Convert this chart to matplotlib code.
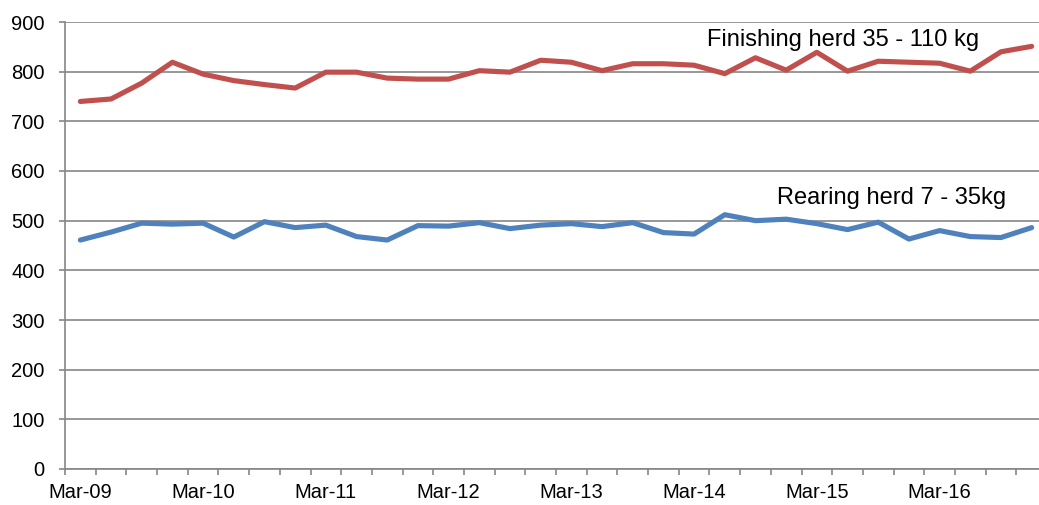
import matplotlib
matplotlib.use("Agg")
import matplotlib.pyplot as plt
import numpy as np

plt.rcParams['font.family'] = ['Liberation Sans', 'DejaVu Sans']

quarters = ["Mar-09", "Jun-09", "Sep-09", "Dec-09",
            "Mar-10", "Jun-10", "Sep-10", "Dec-10",
            "Mar-11", "Jun-11", "Sep-11", "Dec-11",
            "Mar-12", "Jun-12", "Sep-12", "Dec-12",
            "Mar-13", "Jun-13", "Sep-13", "Dec-13",
            "Mar-14", "Jun-14", "Sep-14", "Dec-14",
            "Mar-15", "Jun-15", "Sep-15", "Dec-15",
            "Mar-16", "Jun-16", "Sep-16", "Dec-16"]

finishing = [740, 745, 777, 819, 795, 782, 774, 767, 799, 799, 787, 785,
             785, 802, 799, 823, 819, 802, 816, 816, 813, 796, 828, 803,
             839, 801, 821, 819, 817, 801, 840, 851]

rearing = [461, 477, 495, 493, 495, 467, 498, 486, 491, 468, 461, 490,
           489, 496, 484, 491, 494, 488, 496, 476, 473, 512, 500, 503,
           494, 482, 497, 463, 480, 468, 466, 486]

yticks = [0, 100, 200, 300, 400, 500, 600, 700, 800, 900]
finishing_label = "Finishing herd 35 - 110 kg"
rearing_label = "Rearing herd 7 - 35kg"

W, H = 1039, 505
fig = plt.figure(figsize=(W / 100, H / 100), dpi=100)
ax = fig.add_axes([65 / W, 36 / H, 982 / W, 447 / H])

x = np.arange(len(quarters))
grid_c = "#868686"
ax.plot(x, finishing, color="#C0504D", lw=3.7, solid_joinstyle="round", solid_capstyle="round", zorder=3)
ax.plot(x, rearing, color="#4F81BD", lw=3.7, solid_joinstyle="round", solid_capstyle="round", zorder=3)

ax.set_xlim(-0.5, len(quarters) - 0.5)
ax.set_ylim(0, 900)
ax.set_yticks(yticks)
ax.set_yticklabels([str(v) for v in yticks], fontsize=14.5)
ax.yaxis.grid(True, color=grid_c, lw=1.2)
ax.set_axisbelow(True)

major = [i for i in range(len(quarters)) if i % 4 == 0]
ax.set_xticks(major)
ax.set_xticklabels([quarters[i] for i in major], fontsize=14.5)
ax.tick_params(axis='x', which='major', length=0, pad=10)
ax.set_xticks(np.arange(-0.5, len(quarters), 1.0), minor=True)
ax.tick_params(axis='x', which='minor', length=4.5, color=grid_c, width=1.2)
ax.tick_params(axis='y', length=4.5, color=grid_c, width=1.2, pad=10)

for s in ['top', 'right']:
    ax.spines[s].set_visible(False)
for s in ['left', 'bottom']:
    ax.spines[s].set_color(grid_c)
    ax.spines[s].set_linewidth(1.2)

ax.text(20.41, 864, finishing_label, fontsize=17, ha='left', va='center')
ax.text(22.69, 546, rearing_label, fontsize=17, ha='left', va='center')

fig.savefig("out.png", dpi=100)
